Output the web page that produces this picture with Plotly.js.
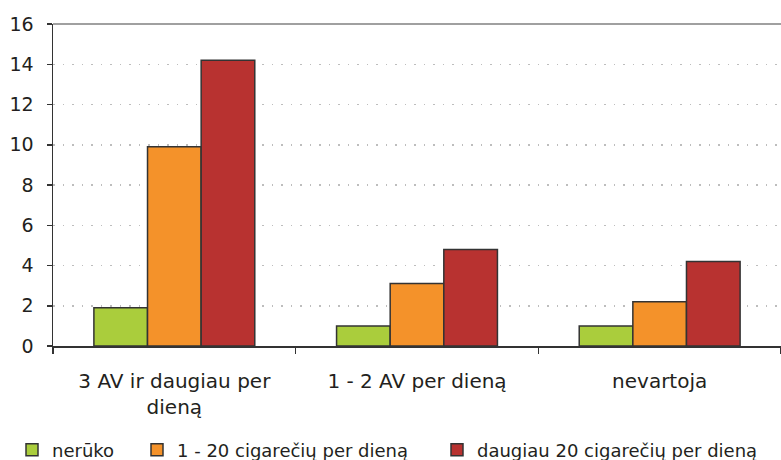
<!DOCTYPE html>
<html>
<head>
<meta charset="utf-8">
<script src="https://cdn.plot.ly/plotly-3.0.1.min.js"></script>
<style>html,body{margin:0;padding:0;background:#fff;}#chart{width:781px;height:460px;}</style>
</head>
<body>
<div id="chart"></div>
<script>
const categories = ["3 AV ir daugiau per<br>dieną", "1 - 2 AV per dieną", "nevartoja"];
const seriesNames = ["nerūko", "1 - 20 cigarečių per dieną", "daugiau 20 cigarečių per dieną"];
const neruko = [1.9, 1.0, 1.0];
const iki20 = [9.9, 3.1, 2.2];
const daugiau20 = [14.2, 4.8, 4.2];
const yTicks = [0, 2, 4, 6, 8, 10, 12, 14, 16];

const seriesValues = [neruko, iki20, daugiau20];
const colors = ["#aacd3c", "#f4922a", "#b83230"];
const legendIds = ["legend", "legend2", "legend3"];
const legendLeftPx = [12, 137, 437];

const traces = seriesValues.map((vals, i) => ({
  type: "bar",
  x: categories,
  y: vals,
  name: seriesNames[i],
  legend: legendIds[i],
  marker: { color: colors[i], line: { color: "#333333", width: 1.5 } },
  hoverinfo: "skip"
}));

const layout = {
  width: 781,
  height: 460,
  margin: { l: 53, r: 0, t: 24, b: 114 },
  paper_bgcolor: "#ffffff",
  plot_bgcolor: "#ffffff",
  font: { family: "DejaVu Sans", color: "#231f20" },
  barmode: "group",
  bargap: 0.337,
  bargroupgap: 0,
  showlegend: true,
  xaxis: {
    type: "category",
    showline: true, linecolor: "#333333", linewidth: 1.5,
    ticks: "outside", tickson: "boundaries", ticklen: 6, tickcolor: "#333333", tickwidth: 1.5,
    ticklabelstandoff: 16,
    tickfont: { family: "DejaVu Sans", size: 20, color: "#231f20" },
    showgrid: false, zeroline: false
  },
  yaxis: {
    range: [0, 16],
    tickvals: yTicks,
    ticktext: yTicks.map(String),
    showline: true, linecolor: "#333333", linewidth: 1.5,
    ticks: "outside", ticklen: 5, tickcolor: "#333333", tickwidth: 1.5,
    ticklabelstandoff: 9,
    tickfont: { family: "DejaVu Sans", size: 19, color: "#231f20" },
    showgrid: true, gridcolor: "#bdbdbd", gridwidth: 1.5, griddash: "1.5px,8px",
    zeroline: false
  },
  shapes: [{
    type: "line", xref: "paper", yref: "paper",
    x0: 0, x1: 1, y0: 1, y1: 1,
    line: { color: "#a0a0a0", width: 2 }
  }]
};

legendIds.forEach((id, i) => {
  layout[id] = {
    orientation: "h",
    xref: "container", yref: "container",
    x: legendLeftPx[i] / 781, xanchor: "left",
    y: 10 / 460, yanchor: "middle",
    font: { family: "DejaVu Sans", size: 18, color: "#231f20" },
    bgcolor: "rgba(0,0,0,0)"
  };
});

Plotly.newPlot("chart", traces, layout, { displayModeBar: false, staticPlot: true });
</script>
</body>
</html>
